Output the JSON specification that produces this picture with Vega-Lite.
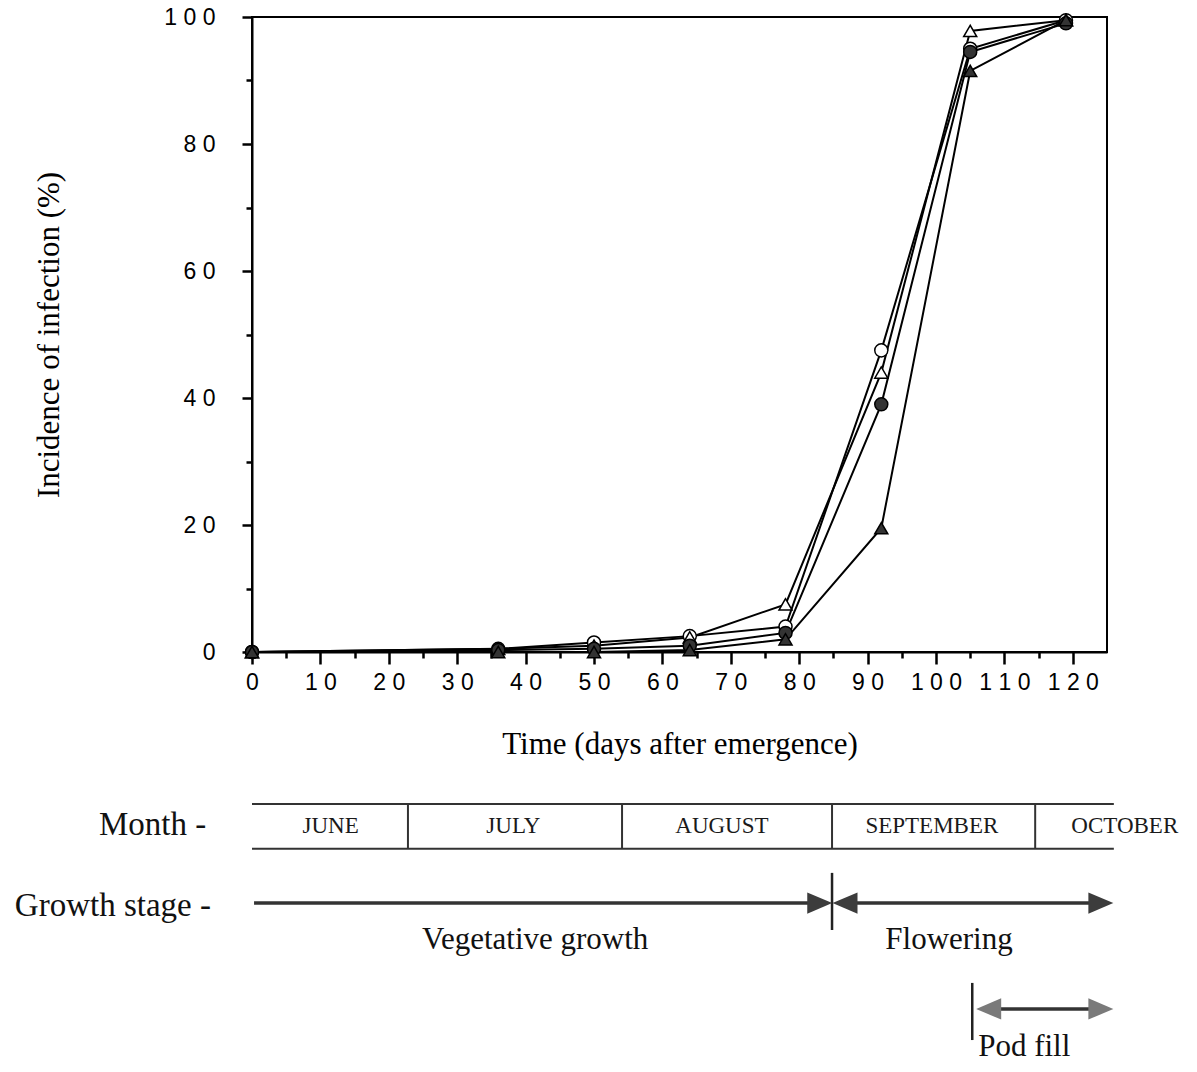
{
  "$schema": "https://vega.github.io/schema/vega-lite/v6.json",
  "background": "white",
  "padding": {"left": 14, "top": 5, "right": 0, "bottom": 0},
  "spacing": 30,
  "resolve": {"scale": {"shape": "independent", "fill": "independent"}},
  "config": {
    "view": {"stroke": "black", "strokeWidth": 2},
    "font": "Liberation Serif"
  },
  "datasets": {
    "incidence": [
      {"series": "Open circle", "day": 0, "pct": 0},
      {"series": "Open circle", "day": 36, "pct": 0.5},
      {"series": "Open circle", "day": 50, "pct": 1.5},
      {"series": "Open circle", "day": 64, "pct": 2.5},
      {"series": "Open circle", "day": 78, "pct": 4},
      {"series": "Open circle", "day": 92, "pct": 47.5},
      {"series": "Open circle", "day": 105, "pct": 95},
      {"series": "Open circle", "day": 119, "pct": 99.5},
      {"series": "Open triangle", "day": 0, "pct": 0},
      {"series": "Open triangle", "day": 36, "pct": 0.5},
      {"series": "Open triangle", "day": 50, "pct": 1},
      {"series": "Open triangle", "day": 64, "pct": 2.3},
      {"series": "Open triangle", "day": 78, "pct": 7.5},
      {"series": "Open triangle", "day": 92, "pct": 44},
      {"series": "Open triangle", "day": 105, "pct": 97.8},
      {"series": "Open triangle", "day": 119, "pct": 99.5},
      {"series": "Filled circle", "day": 0, "pct": 0},
      {"series": "Filled circle", "day": 36, "pct": 0.3},
      {"series": "Filled circle", "day": 50, "pct": 0.5},
      {"series": "Filled circle", "day": 64, "pct": 1},
      {"series": "Filled circle", "day": 78, "pct": 3},
      {"series": "Filled circle", "day": 92, "pct": 39},
      {"series": "Filled circle", "day": 105, "pct": 94.5},
      {"series": "Filled circle", "day": 119, "pct": 99},
      {"series": "Filled triangle", "day": 0, "pct": 0},
      {"series": "Filled triangle", "day": 36, "pct": 0},
      {"series": "Filled triangle", "day": 50, "pct": 0},
      {"series": "Filled triangle", "day": 64, "pct": 0.3},
      {"series": "Filled triangle", "day": 78, "pct": 2},
      {"series": "Filled triangle", "day": 92, "pct": 19.5},
      {"series": "Filled triangle", "day": 105, "pct": 91.5},
      {"series": "Filled triangle", "day": 119, "pct": 99.5}
    ],
    "monthBand": [
      {"edge": "top", "x": 0, "x2": 126, "y": 0.5},
      {"edge": "bottom", "x": 0, "x2": 126, "y": 2.1}
    ],
    "monthDividers": [
      {"x": 22.8}, {"x": 54.1}, {"x": 84.8}, {"x": 114.5}
    ],
    "monthLabels": [
      {"month": "JUNE", "x": 11.5},
      {"month": "JULY", "x": 38.2},
      {"month": "AUGUST", "x": 68.7},
      {"month": "SEPTEMBER", "x": 99.4},
      {"month": "OCTOBER", "x": 127.6}
    ],
    "rowLabels": [
      {"label": "Month -", "x": -6.7, "y": 1.25},
      {"label": "Growth stage -", "x": -6.0, "y": 4.14}
    ],
    "stageShafts": [
      {"stage": "Vegetative growth", "x": 0.3, "x2": 82, "y": 4.04},
      {"stage": "Flowering", "x": 87.5, "x2": 123, "y": 4.04},
      {"stage": "Pod fill", "x": 107, "x2": 123, "y": 7.82}
    ],
    "stageMarkers": [
      {"x": 84.8, "y": 2.96, "y2": 5.0},
      {"x": 105.3, "y": 6.89, "y2": 8.93}
    ],
    "arrowheads": [
      {"stage": "Vegetative growth", "dir": "right", "x": 83.0, "y": 4.04},
      {"stage": "Flowering", "dir": "left", "x": 86.7, "y": 4.04},
      {"stage": "Flowering", "dir": "right", "x": 124.1, "y": 4.04},
      {"stage": "Pod fill", "dir": "left", "x": 107.7, "y": 7.82},
      {"stage": "Pod fill", "dir": "right", "x": 124.1, "y": 7.82}
    ],
    "stageLabels": [
      {"label": "Vegetative growth", "x": 41.4, "y": 5.36},
      {"label": "Flowering", "x": 101.9, "y": 5.36},
      {"label": "Pod fill", "x": 112.9, "y": 9.18}
    ]
  },
  "vconcat": [
    {
      "width": 855,
      "height": 635,
      "data": {"name": "incidence"},
      "encoding": {
        "x": {
          "field": "day",
          "type": "quantitative",
          "scale": {"domain": [0, 125], "nice": false, "zero": false},
          "axis": {
            "values": [0, 5, 10, 15, 20, 25, 30, 35, 40, 45, 50, 55, 60, 65, 70, 75, 80, 85, 90, 95, 100, 105, 110, 115, 120],
            "labelExpr": "datum.value % 10 === 0 ? join(split(datum.label, ''), ' ') : ''",
            "tickSize": {"condition": {"test": "datum.value % 10 === 0", "value": 12}, "value": 6},
            "tickWidth": 2.5,
            "tickColor": "black",
            "domainColor": "black",
            "domainWidth": 2,
            "labelFont": "Liberation Sans",
            "labelFontSize": 23,
            "labelColor": "black",
            "labelPadding": 7,
            "labelFlush": false,
            "labelOverlap": false,
            "grid": false,
            "title": "Time (days after emergence)",
            "titleFont": "Liberation Serif",
            "titleFontSize": 31,
            "titleFontWeight": "normal",
            "titleColor": "black",
            "titlePadding": 35
          }
        },
        "y": {
          "field": "pct",
          "type": "quantitative",
          "scale": {"domain": [0, 100], "nice": false},
          "axis": {
            "values": [0, 10, 20, 30, 40, 50, 60, 70, 80, 90, 100],
            "labelExpr": "datum.value % 20 === 0 ? join(split(datum.label, ''), ' ') : ''",
            "tickSize": {"condition": {"test": "datum.value % 20 === 0", "value": 10}, "value": 6},
            "tickWidth": 2.5,
            "tickColor": "black",
            "domainColor": "black",
            "domainWidth": 2,
            "labelFont": "Liberation Sans",
            "labelFontSize": 23,
            "labelColor": "black",
            "labelPadding": 27,
            "labelFlush": false,
            "labelOverlap": false,
            "grid": false,
            "title": "Incidence of infection (%)",
            "titleFont": "Liberation Serif",
            "titleFontSize": 31,
            "titleFontWeight": "normal",
            "titleColor": "black",
            "titlePadding": 98
          }
        }
      },
      "layer": [
        {
          "mark": {"type": "line", "color": "black", "strokeWidth": 2},
          "encoding": {"detail": {"field": "series"}}
        },
        {
          "mark": {"type": "point", "filled": true, "size": 170, "stroke": "black", "strokeWidth": 1.5, "opacity": 1},
          "encoding": {
            "shape": {
              "field": "series",
              "scale": {"domain": ["Open circle", "Open triangle", "Filled circle", "Filled triangle"], "range": ["circle", "triangle-up", "circle", "triangle-up"]},
              "legend": null
            },
            "fill": {
              "field": "series",
              "scale": {"domain": ["Open circle", "Open triangle", "Filled circle", "Filled triangle"], "range": ["white", "white", "#333333", "#333333"]},
              "legend": null
            }
          }
        }
      ]
    },
    {
      "width": 855,
      "height": 280,
      "view": {"stroke": null},
      "layer": [
        {
          "data": {"name": "monthBand"},
          "mark": {"type": "rule", "color": "#333333", "strokeWidth": 2},
          "encoding": {
            "x": {"field": "x", "type": "quantitative", "scale": {"domain": [0, 125], "nice": false, "zero": false}, "axis": null},
            "x2": {"field": "x2"},
            "y": {"field": "y", "type": "quantitative", "scale": {"domain": [0, 10], "reverse": true, "nice": false, "zero": false}, "axis": null}
          }
        },
        {
          "data": {"name": "monthDividers"},
          "mark": {"type": "rule", "color": "#333333", "strokeWidth": 2},
          "encoding": {
            "x": {"field": "x", "type": "quantitative"},
            "y": {"datum": 0.5, "type": "quantitative"},
            "y2": {"datum": 2.1}
          }
        },
        {
          "data": {"name": "monthLabels"},
          "mark": {"type": "text", "font": "Liberation Serif", "fontSize": 23, "color": "#1a1a1a", "baseline": "middle"},
          "encoding": {
            "x": {"field": "x", "type": "quantitative"},
            "y": {"datum": 1.28, "type": "quantitative"},
            "text": {"field": "month"}
          }
        },
        {
          "data": {"name": "rowLabels"},
          "mark": {"type": "text", "font": "Liberation Serif", "fontSize": 33, "color": "#111111", "align": "right", "baseline": "middle"},
          "encoding": {
            "x": {"field": "x", "type": "quantitative"},
            "y": {"field": "y", "type": "quantitative"},
            "text": {"field": "label"}
          }
        },
        {
          "data": {"name": "stageShafts"},
          "mark": {"type": "rule", "color": "#333333", "strokeWidth": 3.5},
          "encoding": {
            "x": {"field": "x", "type": "quantitative"},
            "x2": {"field": "x2"},
            "y": {"field": "y", "type": "quantitative"}
          }
        },
        {
          "data": {"name": "stageMarkers"},
          "mark": {"type": "rule", "color": "#222222", "strokeWidth": 2.5},
          "encoding": {
            "x": {"field": "x", "type": "quantitative"},
            "y": {"field": "y", "type": "quantitative"},
            "y2": {"field": "y2"}
          }
        },
        {
          "data": {"name": "arrowheads"},
          "mark": {"type": "point", "filled": true, "size": 625, "opacity": 1, "strokeWidth": 0},
          "encoding": {
            "x": {"field": "x", "type": "quantitative"},
            "y": {"field": "y", "type": "quantitative"},
            "shape": {
              "field": "dir",
              "scale": {"domain": ["right", "left"], "range": ["M -1 -0.85 L 1 0 L -1 0.85 Z", "M 1 -0.85 L -1 0 L 1 0.85 Z"]},
              "legend": null
            },
            "fill": {
              "field": "stage",
              "scale": {"domain": ["Vegetative growth", "Flowering", "Pod fill"], "range": ["#3c3c3c", "#3c3c3c", "#7a7a7a"]},
              "legend": null
            }
          }
        },
        {
          "data": {"name": "stageLabels"},
          "mark": {"type": "text", "font": "Liberation Serif", "fontSize": 31, "color": "#111111", "baseline": "middle"},
          "encoding": {
            "x": {"field": "x", "type": "quantitative"},
            "y": {"field": "y", "type": "quantitative"},
            "text": {"field": "label"}
          }
        }
      ]
    }
  ]
}
